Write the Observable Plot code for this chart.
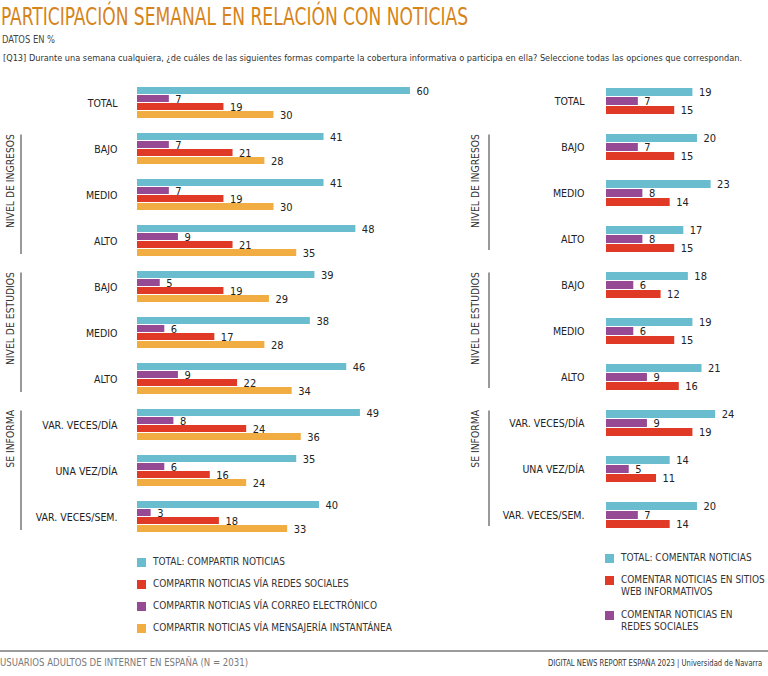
<!DOCTYPE html>
<html><head><meta charset="utf-8">
<script src="https://cdn.jsdelivr.net/npm/d3@7"></script>
<script src="https://cdn.jsdelivr.net/npm/@observablehq/plot@0.6"></script>
<style>
body{margin:0;background:#fff;}
#root{position:relative;width:768px;height:676px;overflow:hidden;font-family:"Liberation Sans Narrow","DejaVu Sans Condensed","Arial Narrow",sans-serif;color:#2b2b2b;}
.abs{position:absolute;}
.leg{position:absolute;font-size:10px;line-height:12.5px;color:#333;white-space:nowrap;}
.sw{position:absolute;width:9px;height:9px;}
</style></head><body><div id="root"></div>
<script>
// ---------- data ----------
const rows = ["TOTAL","BAJO","MEDIO","ALTO","BAJO","MEDIO","ALTO","VAR. VECES/DÍA","UNA VEZ/DÍA","VAR. VECES/SEM."];
const groups = [
  {label: "NIVEL DE INGRESOS", from: 1, to: 3},
  {label: "NIVEL DE ESTUDIOS", from: 4, to: 6},
  {label: "SE INFORMA", from: 7, to: 9}
];
// Compartir
const compartirTotal      = [60,41,41,48,39,38,46,49,35,40];
const compartirCorreo     = [7,7,7,9,5,6,9,8,6,3];
const compartirRedes      = [19,21,19,21,19,17,22,24,16,18];
const compartirMensajeria = [30,28,30,35,29,28,34,36,24,33];
// Comentar
const comentarTotal = [19,20,23,17,18,19,21,24,14,20];
const comentarRedes = [7,7,8,8,6,6,9,9,5,7];
const comentarWeb   = [15,15,14,15,12,15,16,19,11,14];

const legendLeft  = ["TOTAL: COMPARTIR NOTICIAS","COMPARTIR NOTICIAS VÍA REDES SOCIALES","COMPARTIR NOTICIAS VÍA CORREO ELECTRÓNICO","COMPARTIR NOTICIAS VÍA MENSAJERÍA INSTANTÁNEA"];
const legendRight = ["TOTAL: COMENTAR NOTICIAS","COMENTAR NOTICIAS EN SITIOS<br>WEB INFORMATIVOS","COMENTAR NOTICIAS EN<br>REDES SOCIALES"];

const BLUE = "#69bdcf", RED = "#e03a26", PURPLE = "#964a94", ORANGE = "#f2ad42";
const FONT = '"Liberation Sans Narrow","DejaVu Sans Condensed","Arial Narrow",sans-serif';

const root = document.getElementById("root");
const keys = rows.map((_, i) => "r" + i);

// ---------- header ----------
root.insertAdjacentHTML("beforeend", `
<svg class="abs" style="left:0;top:0" width="768" height="70" font-family='${FONT}'>
  <text x="1" y="25" font-size="24" fill="#d7841a" textLength="467" lengthAdjust="spacingAndGlyphs">PARTICIPACIÓN SEMANAL EN RELACIÓN CON NOTICIAS</text>
  <text x="2" y="43" font-size="10" fill="#444" textLength="53" lengthAdjust="spacingAndGlyphs">DATOS EN %</text>
  <text x="3" y="61" font-size="8.8" fill="#333" textLength="739" lengthAdjust="spacingAndGlyphs">[Q13] Durante una semana cualquiera, ¿de cuáles de las siguientes formas comparte la cobertura informativa o participa en ella? Seleccione todas las opciones que correspondan.</text>
</svg>`);

// ---------- chart builder ----------
function buildChart({series, width, marginLeft, marginRight, xMax, barBlock, tickPadding, lineX, textX}) {
  const H = 545, top = 87, step = 46;
  const pIn = (step - barBlock) / step;
  const range = step * (rows.length - pIn);
  const sKeys = series.map(s => s.key);
  const data = keys.flatMap((k, i) => series.map(s => ({row: k, series: s.key, value: s.values[i]})));
  const plot = Plot.plot({
    width, height: H,
    marginTop: top, marginBottom: H - top - range, marginLeft, marginRight,
    style: {fontFamily: FONT, fontSize: "10.5px", color: "#222", background: "transparent"},
    x: {domain: [0, xMax], axis: null},
    y: {domain: sKeys, axis: null, paddingInner: 0.1, paddingOuter: 0},
    fy: {domain: keys, paddingInner: pIn, paddingOuter: 0, axis: "left", label: null,
         tickSize: 0, tickPadding, tickFormat: k => rows[+k.slice(1)]},
    color: {domain: sKeys, range: series.map(s => s.color)},
    marks: [
      Plot.barX(data, {x: "value", y: "series", fy: "row", fill: "series"}),
      Plot.text(data, {x: "value", y: "series", fy: "row", text: d => String(d.value),
        dx: 6, textAnchor: "start", fill: "#222", fontSize: 11})
    ]
  });
  // group brackets from the facet scale
  const s = plot.scale("fy");
  let pos, bw;
  if (typeof s.apply === "function") { pos = v => s.apply(v); bw = s.bandwidth; }
  else {
    const b = d3.scaleBand().domain(s.domain).range(s.range)
      .paddingInner(s.paddingInner ?? pIn).paddingOuter(s.paddingOuter ?? 0).align(s.align ?? 0.5);
    pos = b; bw = b.bandwidth();
  }
  const g = d3.select(plot).append("g").attr("font-family", FONT);
  for (const gr of groups) {
    const y0 = pos(keys[gr.from]), y1 = pos(keys[gr.to]) + bw;
    g.append("line").attr("x1", lineX).attr("x2", lineX).attr("y1", y0 + 1.5).attr("y2", y1 - 3)
      .attr("stroke", "#555").attr("stroke-width", 1.2);
    g.append("text").attr("transform", `translate(${textX},${y0 + 1}) rotate(-90)`)
      .attr("text-anchor", "end").attr("dy", "0.35em").attr("font-size", 10.3).attr("fill", "#333")
      .text(gr.label);
  }
  return plot;
}

const left = buildChart({
  series: [
    {key: "total", color: BLUE, values: compartirTotal},
    {key: "correo", color: PURPLE, values: compartirCorreo},
    {key: "redes", color: RED, values: compartirRedes},
    {key: "mens", color: ORANGE, values: compartirMensajeria}
  ],
  width: 470, marginLeft: 137, marginRight: 15, xMax: 69.9, barBlock: 32, tickPadding: 20, lineX: 21, textX: 10
});
const right = buildChart({
  series: [
    {key: "total", color: BLUE, values: comentarTotal},
    {key: "redes", color: PURPLE, values: comentarRedes},
    {key: "web", color: RED, values: comentarWeb}
  ],
  width: 298, marginLeft: 136, marginRight: 26, xMax: 29.9, barBlock: 28, tickPadding: 22, lineX: 19, textX: 5
});
left.style.position = "absolute"; left.style.left = "0px"; left.style.top = "0px";
right.style.position = "absolute"; right.style.left = "470px"; right.style.top = "0px";
root.appendChild(left); root.appendChild(right);

// ---------- legends ----------
function legend(items, colors, x, ys) {
  items.forEach((t, i) => {
    root.insertAdjacentHTML("beforeend",
      `<div class="sw" style="left:${x}px;top:${ys[i] - 4.5}px;background:${colors[i]}"></div>
       <div class="leg" style="left:${x + 16}px;top:${ys[i] - 6.5}px">${t}</div>`);
  });
}
legend(legendLeft, [BLUE, RED, PURPLE, ORANGE], 137, [562.5, 584.5, 606.5, 628.5]);
legend(legendRight, [BLUE, RED, PURPLE], 605, [558, 580, 615]);

// ---------- footer ----------
root.insertAdjacentHTML("beforeend", `
<div class="abs" style="left:0;top:650px;width:768px;height:2px;background:#9b9b9b"></div>
<svg class="abs" style="left:0;top:652px" width="768" height="24" font-family='${FONT}'>
  <text x="0" y="14" font-size="10" fill="#7a7a7a" textLength="248" lengthAdjust="spacingAndGlyphs">USUARIOS ADULTOS DE INTERNET EN ESPAÑA (N = 2031)</text>
  <text id="fr" font-size="8.4" fill="#333">DIGITAL NEWS REPORT ESPAÑA 2023 | Universidad de Navarra</text>
</svg>`);
// fit right footer into its slot by horizontal scaling (keeps the box within the page)
const fr = document.getElementById("fr");
const natural = fr.getComputedTextLength() || 214;
fr.setAttribute("transform", `translate(548,14) scale(${214 / natural},1)`);
</script></body></html>
